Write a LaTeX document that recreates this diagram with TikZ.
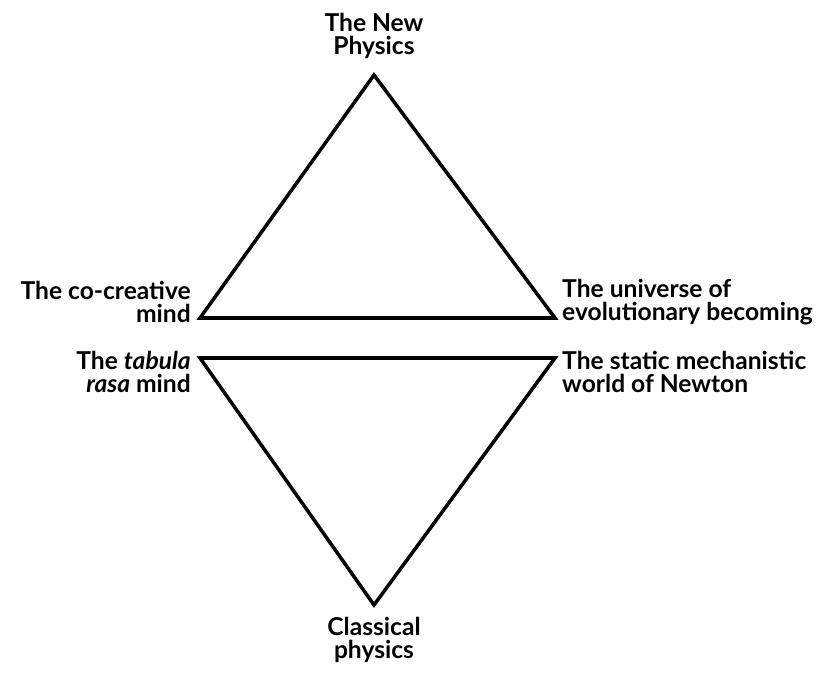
\documentclass[tikz,border=0pt]{standalone}
\usepackage{fontspec}
\setmainfont{Lato}
\usetikzlibrary{positioning}
\tikzset{
  every picture/.style={line join=miter, line cap=butt},
  side/.style={line width=3pt},
  lbl/.style={font=\fontsize{21}{19.5}\selectfont\bfseries, inner sep=0pt, align=center},
  lbll/.style={lbl, align=left, anchor=west},
  lblr/.style={lbl, align=right, anchor=east},
}
\begin{document}
\begin{tikzpicture}[x=0.03cm,y=-0.03cm]
\useasboundingbox (0,0) rectangle (817,673);
% vertices
\coordinate (newtop) at (374,75);
\coordinate (upl) at (200,318);
\coordinate (upr) at (555,318);
\coordinate (lowl) at (200,358);
\coordinate (lowr) at (555,358);
\coordinate (lowbot) at (374,605);
% the two triangles
\draw[side] (newtop) -- (upr) -- (upl) -- cycle;
\draw[side] (lowl) -- (lowr) -- (lowbot) -- cycle;
% labels
\node[lbl] (newphys) at (374,36) {The New\\Physics};
\node[lblr] (cocreat) at (191,302) {The co-creative\\mind};
\node[lbll] (univ) at (562,302) {The universe of\\evolutionary becoming};
\node[lblr] (tabula) at (191,372) {The \textit{tabula}\\\textit{rasa} mind};
\node[lbll] (static) at (562,372) {The static mechanistic\\world of Newton};
\node[lbl] (classic) at (374,640) {Classical\\physics};
\end{tikzpicture}
\end{document}
